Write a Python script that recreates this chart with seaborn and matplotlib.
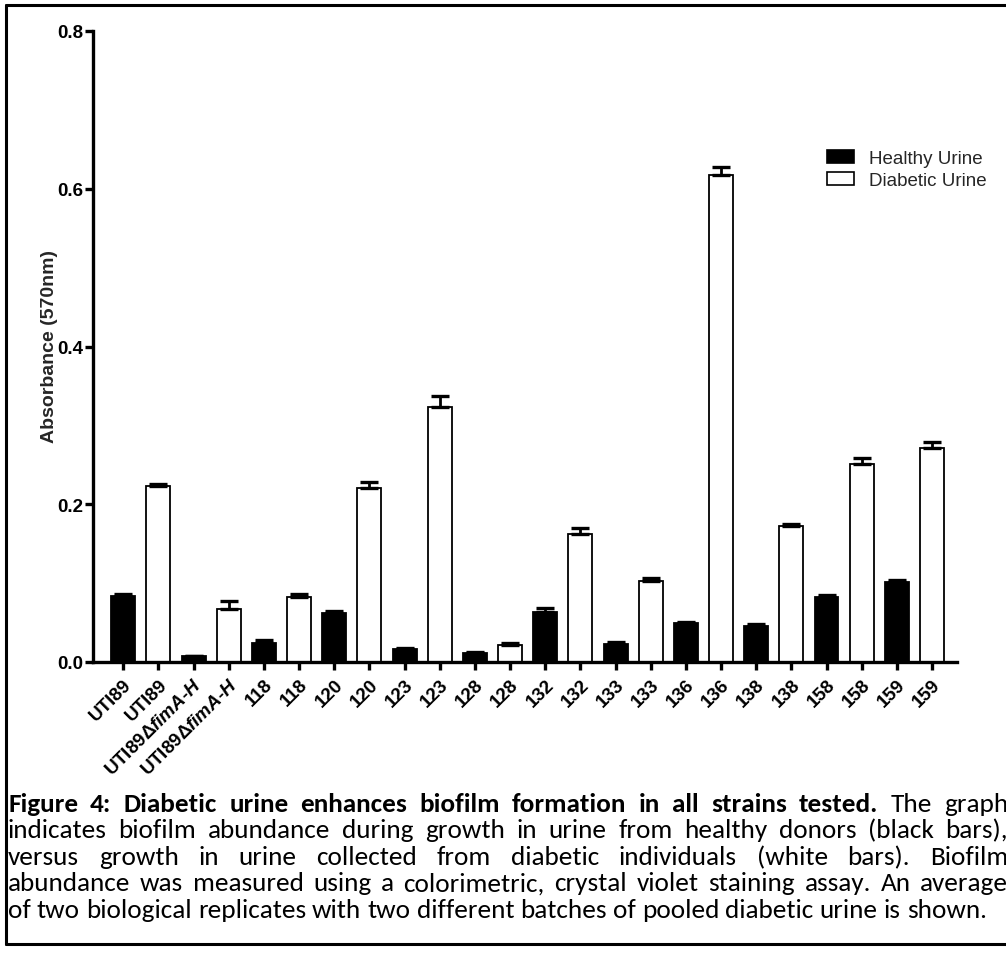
import numpy as np
import pandas as pd
import matplotlib
matplotlib.use("Agg")
import matplotlib.pyplot as plt
import seaborn as sns
from matplotlib.lines import Line2D
from matplotlib import font_manager

# ---------------- data ----------------
strains = ["UTI89", "UTI89Δ$fimA$-$H$", "118", "120", "123", "128",
           "132", "133", "136", "138", "158", "159"]
healthy = [0.084, 0.007, 0.024, 0.062, 0.016, 0.011, 0.064, 0.023, 0.049, 0.046, 0.082, 0.102]
healthy_err = [0.002, 0.001, 0.004, 0.0025, 0.002, 0.0017, 0.0045, 0.002, 0.002, 0.0025, 0.003, 0.0025]
diabetic = [0.223, 0.067, 0.082, 0.220, 0.323, 0.022, 0.162, 0.103, 0.618, 0.172, 0.251, 0.271]
diabetic_err = [0.003, 0.0105, 0.004, 0.0076, 0.014, 0.0017, 0.008, 0.003, 0.009, 0.003, 0.008, 0.008]
groups = ["Healthy Urine", "Diabetic Urine"]
y_ticks = [0.0, 0.2, 0.4, 0.6, 0.8]
y_label = "Absorbance (570nm)"
caption_lines = [
    [("Figure 4: Diabetic urine enhances biofilm formation in all strains tested.", "bold"),
     ("The graph", "normal")],
    [("indicates biofilm abundance during growth in urine from healthy donors (black bars),", "normal")],
    [("versus growth in urine collected from diabetic individuals (white bars). Biofilm", "normal")],
    [("abundance was measured using a colorimetric, crystal violet staining assay. An average", "normal")],
    [("of two biological replicates with two different batches of pooled diabetic urine is shown.", "normal")],
]

rows = []
for i, s in enumerate(strains):
    rows.append({"strain": s, "urine": groups[0], "value": healthy[i], "err": healthy_err[i]})
    rows.append({"strain": s, "urine": groups[1], "value": diabetic[i], "err": diabetic_err[i]})
df = pd.DataFrame(rows)
df["pos"] = np.arange(len(df))

# ---------------- style ----------------
sns.set_theme(style="ticks")
plt.rcParams["font.family"] = ["Liberation Sans", "DejaVu Sans"]
plt.rcParams["mathtext.fontset"] = "custom"
plt.rcParams["mathtext.it"] = "Liberation Sans:italic:bold"
plt.rcParams["mathtext.rm"] = "Liberation Sans:bold"
plt.rcParams["mathtext.bf"] = "Liberation Sans:bold"

installed = {f.name for f in font_manager.fontManager.ttflist}
cap_main = next((n for n in ["Carlito", "Lato", "Open Sans"] if n in installed), "DejaVu Sans")
cap_family = [cap_main, "DejaVu Sans"]

W, H = 1006, 954
DPI = 100
fig = plt.figure(figsize=(W / DPI, H / DPI), dpi=DPI)
fig.patch.set_facecolor("white")

def fx(px):
    return px / W

def fy(py):
    return 1 - py / H

ax_l, ax_r, ax_t, ax_b = 93, 957, 32, 663
ax = fig.add_axes([fx(ax_l), fy(ax_b), fx(ax_r) - fx(ax_l), fy(ax_t) - fy(ax_b)])

sns.barplot(data=df, x="pos", y="value", hue="urine", hue_order=groups,
            palette={groups[0]: "black", groups[1]: "white"}, dodge=False,
            width=0.68, edgecolor="black", linewidth=1.3, errorbar=None, ax=ax)

ax.errorbar(df["pos"], df["value"], yerr=[np.zeros(len(df)), df["err"]],
            fmt="none", ecolor="black", elinewidth=2.0, capsize=6.5, capthick=2.4, zorder=5)

ax.set_xlim(-0.86, len(df) - 1 + 0.71)
ax.set_ylim(0, 0.8)
ax.set_yticks(y_ticks)
ax.set_yticklabels([f"{v:.1f}" for v in y_ticks], fontsize=13.5, fontweight="bold")
ax.set_xticks(df["pos"])
ax.set_xticklabels(df["strain"], rotation=45, ha="right", rotation_mode="anchor",
                   fontsize=13.5, fontweight="bold")
ax.set_xlabel("")
ax.set_ylabel(y_label, fontsize=14, fontweight="bold")
ax.yaxis.set_label_coords(fx(58), fy(347), transform=fig.transFigure)

for side in ["top", "right"]:
    ax.spines[side].set_visible(False)
for side in ["left", "bottom"]:
    ax.spines[side].set_linewidth(2.4)
    ax.spines[side].set_color("black")
ax.tick_params(axis="both", direction="out", length=6, width=2.4, color="black",
               labelcolor="black")
ax.tick_params(axis="y", pad=1)
ax.tick_params(axis="x", pad=4)

handles, labels = ax.get_legend_handles_labels()
leg = ax.legend(handles, labels, loc="upper left", frameon=False, fontsize=13.5,
                bbox_to_anchor=(fx(827), fy(151)), bbox_transform=fig.transFigure,
                handlelength=1.45, handleheight=0.72, handletextpad=0.8, labelspacing=0.25,
                borderpad=0, borderaxespad=0)
for p in leg.get_patches():
    p.set_edgecolor("black")
    p.set_linewidth(1.2)

# ---------------- caption (justified) ----------------
fig.canvas.draw()
renderer = fig.canvas.get_renderer()

def text_width(s, size, weight):
    t = fig.text(0, 0, s, fontsize=size, family=cap_family, fontweight=weight)
    w = t.get_window_extent(renderer).width
    t.remove()
    return w

# calibrate font size so the final (non-justified) line spans its reference width
ref_size = 12
natural = text_width(caption_lines[-1][0][0], ref_size, "normal")
cap_size = ref_size * (985 - 8) / natural

left_px = 8
right_px = 1008
line_centers = [803, 829.5, 856, 882.5, 909]
for li, line in enumerate(caption_lines):
    words = []
    for seg, weight in line:
        for w in seg.split(" "):
            words.append((w, weight))
    widths = [text_width(w, cap_size, wt) for w, wt in words]
    baseline = line_centers[li] + cap_size * DPI / 72 * 0.33
    if li < len(caption_lines) - 1:
        gap = (right_px - left_px - sum(widths)) / (len(words) - 1)
    else:
        gap = text_width("a a", cap_size, "normal") - text_width("aa", cap_size, "normal")
    x = left_px
    for (w, wt), wd in zip(words, widths):
        fig.text(fx(x), fy(baseline), w, fontsize=cap_size, family=cap_family,
                 fontweight=wt, va="baseline", ha="left", color="black")
        x += wd + gap

# ---------------- frame ----------------
frame_kw = dict(color="black", linewidth=2.2, transform=fig.transFigure)
fig.add_artist(Line2D([fx(5.5), fx(5.5)], [fy(5.5), fy(945)], **frame_kw))
fig.add_artist(Line2D([fx(5.5), 1.0], [fy(5.5), fy(5.5)], **frame_kw))
fig.add_artist(Line2D([fx(5.5), 1.0], [fy(945), fy(945)], **frame_kw))

fig.savefig("out.png", dpi=DPI, facecolor="white")
